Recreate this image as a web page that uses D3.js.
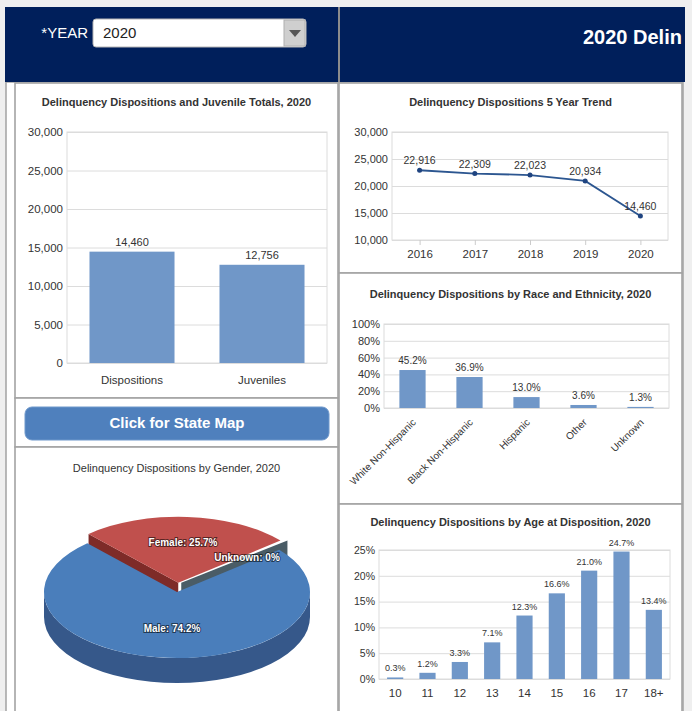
<!DOCTYPE html>
<html>
<head>
<meta charset="utf-8">
<script src="https://cdn.jsdelivr.net/npm/d3@7"></script>
<style>
  html, body { margin: 0; padding: 0; background: #efefef; }
  svg { display: block; font-family: "Liberation Sans", Arial, sans-serif; }
  .tick text { fill: #333; }
</style>
</head>
<body>
<svg id="chart" width="692" height="711"></svg>
<script>
// ---------------- DATA ----------------
const selectedYear = "2020";
const headerTitle = "2020 Delin";
const totalsCategories = ["Dispositions", "Juveniles"];
const totalsValues = [14460, 12756];
const totalsTicks = [0, 5000, 10000, 15000, 20000, 25000, 30000];

const trendYears = ["2016", "2017", "2018", "2019", "2020"];
const trendValues = [22916, 22309, 22023, 20934, 14460];
const trendTicks = [10000, 15000, 20000, 25000, 30000];

const raceCategories = ["White Non-Hispanic", "Black Non-Hispanic", "Hispanic", "Other", "Unknown"];
const raceValues = [45.2, 36.9, 13.0, 3.6, 1.3];
const raceTicks = [0, 20, 40, 60, 80, 100];

const genderLabels = ["Male", "Female", "Unknown"];
const genderValues = [74.2, 25.7, 0];

const ageCategories = ["10", "11", "12", "13", "14", "15", "16", "17", "18+"];
const ageValues = [0.3, 1.2, 3.3, 7.1, 12.3, 16.6, 21.0, 24.7, 13.4];
const ageTicks = [0, 5, 10, 15, 20, 25];

// ---------------- LAYOUT ----------------
const svg = d3.select("#chart");
const BAR = "#7097c8";
const GRID = "#dcdcdc";
const BORDER = "#a3a3a3";
const fmtInt = d3.format(",");
const fmtPct1 = d => d3.format(".1f")(d) + "%";

// background
svg.append("rect").attr("width", 692).attr("height", 711).attr("fill", "#efefef");
// white body
svg.append("rect").attr("x", 6).attr("y", 82).attr("width", 677).attr("height", 640)
  .attr("fill", "#fff").attr("stroke", BORDER).attr("stroke-width", 1.5);

// panels
const panels = [
  [15, 83, 323, 315], [15, 398, 323, 49], [15, 447, 323, 280],
  [339, 83, 343, 190], [339, 273, 343, 231], [339, 504, 343, 220]
];
svg.selectAll("rect.panel").data(panels).join("rect").attr("class", "panel")
  .attr("x", d => d[0]).attr("y", d => d[1]).attr("width", d => d[2]).attr("height", d => d[3])
  .attr("fill", "#fff").attr("stroke", BORDER).attr("stroke-width", 1.6);

// header
svg.append("defs").append("clipPath").attr("id", "hdrclip")
  .append("rect").attr("x", 5).attr("y", 7).attr("width", 680).attr("height", 75);
svg.append("rect").attr("x", 5).attr("y", 7).attr("width", 680).attr("height", 75).attr("fill", "#001f5b");
svg.append("line").attr("x1", 339).attr("x2", 339).attr("y1", 7).attr("y2", 82)
  .attr("stroke", "#8c8c8c").attr("stroke-width", 2);
svg.append("text").attr("x", 88).attr("y", 38).attr("text-anchor", "end")
  .attr("fill", "#fff").attr("font-size", 15).text("*YEAR");
svg.append("rect").attr("x", 93).attr("y", 19).attr("width", 213).attr("height", 28).attr("rx", 3)
  .attr("fill", "#fff").attr("stroke", "#b5b5b5");
svg.append("rect").attr("x", 284).attr("y", 20).attr("width", 21).attr("height", 26)
  .attr("fill", "#cfcfcf").attr("stroke", "#b0b0b0");
svg.append("path").attr("d", "M289,30 L301,30 L295,37 Z").attr("fill", "#555");
svg.append("text").attr("x", 103).attr("y", 38).attr("fill", "#222").attr("font-size", 15).text(selectedYear);
svg.append("text").attr("x", 583).attr("y", 44).attr("fill", "#fff").attr("font-size", 20)
  .attr("font-weight", "bold").attr("clip-path", "url(#hdrclip)")
  .text(headerTitle);

// title helper
function title(x, y, t, bold = true, size = 11) {
  svg.append("text").attr("x", x).attr("y", y).attr("text-anchor", "middle")
    .attr("font-size", size).attr("font-weight", bold ? "bold" : "normal").attr("fill", "#333").text(t);
}

// generic y-axis + frame
function yAxis(g, y, ticks, w, fmt, size) {
  const ax = g.append("g").call(d3.axisLeft(y).tickValues(ticks).tickSize(-w).tickPadding(4).tickFormat(fmt));
  ax.select(".domain").remove();
  ax.selectAll("line").attr("stroke", GRID);
  ax.selectAll("text").attr("font-size", size).attr("fill", "#333");
}
function frame(g, w, h) {
  g.append("rect").attr("width", w).attr("height", h).attr("fill", "none").attr("stroke", GRID);
}

// ---------- Chart 1: Totals ----------
title(176.5, 106, "Delinquency Dispositions and Juvenile Totals, " + selectedYear);
{
  const L = 67, T = 132, W = 260, H = 231;
  const g = svg.append("g").attr("transform", `translate(${L},${T})`);
  const x = d3.scaleBand().domain(totalsCategories).range([0, W]).paddingInner(0.346).paddingOuter(0.173);
  const y = d3.scaleLinear().domain([0, 30000]).range([H, 0]);
  frame(g, W, H);
  yAxis(g, y, totalsTicks, W, fmtInt, 11.5);
  g.selectAll("rect.bar").data(totalsValues).join("rect").attr("class", "bar")
    .attr("x", (d, i) => x(totalsCategories[i])).attr("width", x.bandwidth())
    .attr("y", d => y(d)).attr("height", d => H - y(d)).attr("fill", BAR);
  g.selectAll("text.val").data(totalsValues).join("text").attr("class", "val")
    .attr("x", (d, i) => x(totalsCategories[i]) + x.bandwidth() / 2).attr("y", d => y(d) - 6)
    .attr("text-anchor", "middle").attr("font-size", 11).attr("fill", "#333").text(fmtInt);
  const xa = g.append("g").attr("transform", `translate(0,${H})`)
    .call(d3.axisBottom(x).tickSize(0).tickPadding(13));
  xa.select(".domain").remove();
  xa.selectAll("text").attr("font-size", 11.5).attr("fill", "#333");
}

// ---------- Button ----------
svg.append("rect").attr("x", 25).attr("y", 407).attr("width", 304).attr("height", 33).attr("rx", 7)
  .attr("fill", "#4f80bd").attr("stroke", "#6f98cb");
svg.append("text").attr("x", 177).attr("y", 428).attr("text-anchor", "middle")
  .attr("font-size", 15).attr("font-weight", "bold").attr("fill", "#fff").text("Click for State Map");

// ---------- Chart 2: Trend ----------
title(510.5, 106, "Delinquency Dispositions 5 Year Trend");
{
  const L = 392, T = 132, W = 276, H = 108;
  const g = svg.append("g").attr("transform", `translate(${L},${T})`);
  const x = d3.scalePoint().domain(trendYears).range([0, W]).padding(0.5);
  const y = d3.scaleLinear().domain([10000, 30000]).range([H, 0]);
  frame(g, W, H);
  yAxis(g, y, trendTicks, W, fmtInt, 11);
  const xa = g.append("g").attr("transform", `translate(0,${H})`)
    .call(d3.axisBottom(x).tickSize(5).tickPadding(5));
  xa.select(".domain").remove();
  xa.selectAll("line").attr("stroke", "#ccc");
  xa.selectAll("text").attr("font-size", 11.5).attr("fill", "#333");
  const line = d3.line().x((d, i) => x(trendYears[i])).y(d => y(d));
  g.append("path").datum(trendValues).attr("d", line).attr("fill", "none")
    .attr("stroke", "#2c5690").attr("stroke-width", 1.8);
  g.selectAll("circle").data(trendValues).join("circle")
    .attr("cx", (d, i) => x(trendYears[i])).attr("cy", d => y(d)).attr("r", 2.5).attr("fill", "#1f4480");
  g.selectAll("text.val").data(trendValues).join("text").attr("class", "val")
    .attr("x", (d, i) => x(trendYears[i])).attr("y", d => y(d) - 6)
    .attr("text-anchor", "middle").attr("font-size", 10.5).attr("fill", "#333").text(fmtInt);
}

// ---------- Chart 3: Race ----------
title(510.5, 298, "Delinquency Dispositions by Race and Ethnicity, " + selectedYear);
{
  const L = 384, T = 324, W = 285, H = 84;
  const g = svg.append("g").attr("transform", `translate(${L},${T})`);
  const x = d3.scaleBand().domain(raceCategories).range([0, W]).paddingInner(0.54).paddingOuter(0.27);
  const y = d3.scaleLinear().domain([0, 100]).range([H, 0]);
  frame(g, W, H);
  yAxis(g, y, raceTicks, W, d => d + "%", 11);
  g.selectAll("rect.bar").data(raceValues).join("rect").attr("class", "bar")
    .attr("x", (d, i) => x(raceCategories[i])).attr("width", x.bandwidth())
    .attr("y", d => y(d)).attr("height", d => H - y(d)).attr("fill", BAR);
  g.selectAll("text.val").data(raceValues).join("text").attr("class", "val")
    .attr("x", (d, i) => x(raceCategories[i]) + x.bandwidth() / 2).attr("y", d => y(d) - 6)
    .attr("text-anchor", "middle").attr("font-size", 10).attr("fill", "#333").text(fmtPct1);
  const xa = g.append("g").attr("transform", `translate(0,${H})`)
    .call(d3.axisBottom(x).tickSize(0).tickPadding(0));
  xa.select(".domain").remove();
  xa.selectAll("text").attr("font-size", 10).attr("fill", "#444")
    .attr("y", 0).attr("dy", 0).attr("text-anchor", "end")
    .attr("transform", "translate(4,15) rotate(-45)");
}

// ---------- Chart 4: Gender 3D pie ----------
title(176.5, 472, "Delinquency Dispositions by Gender, " + selectedYear, false, 11);
{
  const cx = 177, cy = 592, rx = 133, ry = 66, depth = 25, explode = 0.14;
  const start = 50.2 * Math.PI / 180;
  const arcs = d3.pie().sort(null).startAngle(start).endAngle(start + 2 * Math.PI)(genderValues);
  const P = (a, ox, oy, dz = 0) => [cx + ox + rx * Math.sin(a), cy + oy - ry * Math.cos(a) + dz];
  const topPath = (a0, a1, ox, oy) => {
    const p0 = P(a0, ox, oy), p1 = P(a1, ox, oy);
    const large = (a1 - a0) > Math.PI ? 1 : 0;
    return `M${cx + ox},${cy + oy} L${p0} A${rx},${ry} 0 ${large} 1 ${p1} Z`;
  };
  const wall = (a, ox, oy, dx = 0) => {
    const c = [cx + ox, cy + oy], p = P(a, ox, oy);
    return `M${c} L${p[0] + dx},${p[1]} L${p[0] + dx},${p[1] + depth} L${c[0]},${c[1] + depth} Z`;
  };
  const male = arcs[0], female = arcs[1], unknown = arcs[2];
  const mid = (female.startAngle + female.endAngle) / 2;
  const fox = explode * rx * Math.sin(mid), foy = -explode * ry * Math.cos(mid);
  // female walls (behind)
  svg.append("path").attr("d", wall(female.startAngle, fox, foy)).attr("fill", "#7e2b28");
  svg.append("path").attr("d", wall(unknown.startAngle, fox + 3, foy, 4)).attr("fill", "#4a5c66");
  svg.append("path").attr("d", topPath(female.startAngle, female.endAngle, fox, foy)).attr("fill", "#c0504d");
  // male outer side (front)
  const a90 = Math.PI / 2, a270 = 3 * Math.PI / 2;
  const s0 = P(a90, 0, 0), s1 = P(a270, 0, 0);
  svg.append("path")
    .attr("d", `M${s0} A${rx},${ry} 0 0 1 ${s1} L${s1[0]},${s1[1] + depth} A${rx},${ry} 0 0 0 ${s0[0]},${s0[1] + depth} Z`)
    .attr("fill", "#36588a");
  svg.append("path").attr("d", topPath(male.startAngle, male.endAngle, 0, 0)).attr("fill", "#4a7ebb");
  const lbl = (x, y, t) => svg.append("text").attr("x", x).attr("y", y).attr("text-anchor", "middle")
    .attr("font-size", 10).attr("font-weight", "bold").attr("fill", "#fff")
    .attr("stroke", "rgba(0,0,0,0.55)").attr("stroke-width", 2).attr("paint-order", "stroke").text(t);
  lbl(183, 546, genderLabels[1] + ": " + genderValues[1] + "%");
  lbl(247, 561, genderLabels[2] + ": " + genderValues[2] + "%");
  lbl(172, 632, genderLabels[0] + ": " + genderValues[0] + "%");
}

// ---------- Chart 5: Age ----------
title(510.5, 526, "Delinquency Dispositions by Age at Disposition, " + selectedYear);
{
  const L = 379, T = 550, W = 291, H = 129;
  const g = svg.append("g").attr("transform", `translate(${L},${T})`);
  const x = d3.scaleBand().domain(ageCategories).range([0, W]).paddingInner(0.5).paddingOuter(0.25);
  const y = d3.scaleLinear().domain([0, 25]).range([H, 0]);
  frame(g, W, H);
  yAxis(g, y, ageTicks, W, d => d + "%", 10.5);
  g.selectAll("rect.bar").data(ageValues).join("rect").attr("class", "bar")
    .attr("x", (d, i) => x(ageCategories[i])).attr("width", x.bandwidth())
    .attr("y", d => y(d)).attr("height", d => H - y(d)).attr("fill", BAR);
  g.selectAll("text.val").data(ageValues).join("text").attr("class", "val")
    .attr("x", (d, i) => x(ageCategories[i]) + x.bandwidth() / 2).attr("y", d => y(d) - 6)
    .attr("text-anchor", "middle").attr("font-size", 9).attr("fill", "#333").text(fmtPct1);
  const xa = g.append("g").attr("transform", `translate(0,${H})`)
    .call(d3.axisBottom(x).tickSize(0).tickPadding(10));
  xa.select(".domain").remove();
  xa.selectAll("text").attr("font-size", 11.5).attr("fill", "#333");
}
</script>
</body>
</html>
